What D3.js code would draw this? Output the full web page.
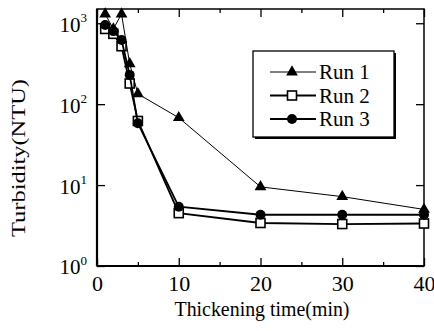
<!DOCTYPE html>
<html>
<head>
<meta charset="utf-8">
<script src="https://cdn.jsdelivr.net/npm/d3@7"></script>
</head>
<body style="margin:0">
<div id="chart"></div>
<script>
// thickening time (min)
const times = [1, 2, 3, 4, 5, 10, 20, 30, 40];
// turbidity (NTU) per run
const run1 = [1300, 850, 1300, 315, 134, 68, 9.5, 7.2, 5.0];
const run2 = [850, 740, 520, 180, 62, 4.5, 3.4, 3.3, 3.35];
const run3 = [950, 800, 620, 230, 58, 5.4, 4.3, 4.3, 4.3];
const seriesNames = ["Run 1", "Run 2", "Run 3"];
const xTicks = [0, 10, 20, 30, 40];
const xMinorTicks = [5, 15, 25, 35];
const yTicks = [1, 10, 100, 1000];

const W = 434, H = 331;
const plot = { left: 97, right: 424, top: 9, bottom: 266 };

const svg = d3.select("#chart").append("svg")
    .attr("width", W)
    .attr("height", H);

const x = d3.scaleLinear().domain([0, 40]).range([plot.left, plot.right]);
const y = d3.scaleLog().domain([1, 1500]).range([plot.bottom, plot.top]);

// frame
svg.append("rect")
    .attr("x", plot.left).attr("y", plot.top)
    .attr("width", plot.right - plot.left).attr("height", plot.bottom - plot.top)
    .attr("fill", "none").attr("stroke", "#000").attr("stroke-width", 1.5);

function serif(sel) {
  return sel.style("font-family", '"Liberation Serif"');
}

function tickAxis(axis, tx, ty) {
  const g = svg.append("g")
      .attr("transform", `translate(${tx},${ty})`)
      .call(axis);
  g.attr("font-family", null);
  g.select(".domain").remove();
  g.selectAll("line").attr("stroke", "#000").attr("stroke-width", 1.3);
  return g;
}

// bottom axis
const gx = tickAxis(d3.axisBottom(x).tickValues(xTicks).tickSize(-8).tickPadding(9).tickFormat(d3.format("d")), 0, plot.bottom);
gx.selectAll("text").attr("font-size", 22).attr("fill", "#000").call(serif);
tickAxis(d3.axisBottom(x).tickValues(xMinorTicks).tickSize(-4).tickFormat(""), 0, plot.bottom);

// top mirror ticks
tickAxis(d3.axisTop(x).tickValues(xTicks).tickSize(-8).tickFormat(""), 0, plot.top);
tickAxis(d3.axisTop(x).tickValues(xMinorTicks).tickSize(-4).tickFormat(""), 0, plot.top);

// left axis with 10^n labels
const gy = tickAxis(d3.axisLeft(y).tickValues(yTicks).tickSize(-8).tickPadding(10).tickFormat(""), plot.left, 0);
gy.selectAll(".tick text").each(function(d) {
  const t = d3.select(this).attr("font-size", 21).attr("dy", "0.38em").attr("fill", "#000").call(serif);
  t.append("tspan").text("10");
  t.append("tspan").attr("font-size", 13).attr("dy", "-0.75em").text(Math.round(Math.log10(d)));
});

// right mirror ticks
tickAxis(d3.axisRight(y).tickValues(yTicks).tickSize(-8).tickFormat(""), plot.right, 0);

// thicker left / bottom axis lines
svg.append("line").attr("x1", plot.left).attr("x2", plot.left)
    .attr("y1", plot.top).attr("y2", plot.bottom)
    .attr("stroke", "#000").attr("stroke-width", 2.2);
svg.append("line").attr("x1", plot.left).attr("x2", plot.right)
    .attr("y1", plot.bottom).attr("y2", plot.bottom)
    .attr("stroke", "#000").attr("stroke-width", 2.2);

// axis titles
svg.append("text")
    .attr("transform", `translate(25,158) rotate(-90)`)
    .attr("text-anchor", "middle")
    .attr("font-size", 19)
    .attr("textLength", 158)
    .attr("lengthAdjust", "spacingAndGlyphs")
    .call(serif)
    .text("Turbidity(NTU)");

svg.append("text")
    .attr("x", 262).attr("y", 316)
    .attr("text-anchor", "middle")
    .attr("font-size", 21)
    .attr("textLength", 175)
    .attr("lengthAdjust", "spacingAndGlyphs")
    .call(serif)
    .text("Thickening time(min)");

// series
const series = [
  { name: seriesNames[0], values: run1, width: 1, marker: "triangle" },
  { name: seriesNames[1], values: run2, width: 1.8, marker: "square" },
  { name: seriesNames[2], values: run3, width: 1.8, marker: "circle" }
];

const line = d3.line()
    .x(d => x(d.t))
    .y(d => y(d.v));

function drawMarker(g, type, cx, cy) {
  if (type === "triangle") {
    g.append("path")
        .attr("d", d3.symbol().type(d3.symbolTriangle).size(60)())
        .attr("transform", `translate(${cx},${cy})`)
        .attr("fill", "#000");
  } else if (type === "square") {
    g.append("rect")
        .attr("x", cx - 4.5).attr("y", cy - 4.5)
        .attr("width", 9).attr("height", 9)
        .attr("fill", "#fff").attr("stroke", "#000").attr("stroke-width", 1.6);
  } else {
    g.append("circle")
        .attr("cx", cx).attr("cy", cy).attr("r", 5)
        .attr("fill", "#000");
  }
}

series.forEach(s => {
  const pts = times.map((t, i) => ({ t: t, v: s.values[i] }));
  svg.append("path")
      .datum(pts)
      .attr("d", line)
      .attr("fill", "none")
      .attr("stroke", "#000")
      .attr("stroke-width", s.width);
  const g = svg.append("g");
  pts.forEach(p => drawMarker(g, s.marker, x(p.t), y(p.v)));
});

// legend
const lg = { x: 253, y: 51, w: 141, h: 86 };
svg.append("rect")
    .attr("x", lg.x + 2).attr("y", lg.y + 2)
    .attr("width", lg.w).attr("height", lg.h)
    .attr("fill", "#000");
svg.append("rect")
    .attr("x", lg.x).attr("y", lg.y)
    .attr("width", lg.w).attr("height", lg.h)
    .attr("fill", "#fff").attr("stroke", "#000").attr("stroke-width", 1.3);

series.forEach((s, i) => {
  const cy = 72 + i * 23.5;
  const g = svg.append("g");
  g.append("line")
      .attr("x1", 270).attr("x2", 316)
      .attr("y1", cy).attr("y2", cy)
      .attr("stroke", "#000").attr("stroke-width", s.width);
  drawMarker(g, s.marker, 292, cy);
  g.append("text")
      .attr("x", 319).attr("y", cy)
      .attr("dy", "0.35em")
      .attr("font-size", 21)
      .call(serif)
      .text(s.name);
});
</script>
</body>
</html>
